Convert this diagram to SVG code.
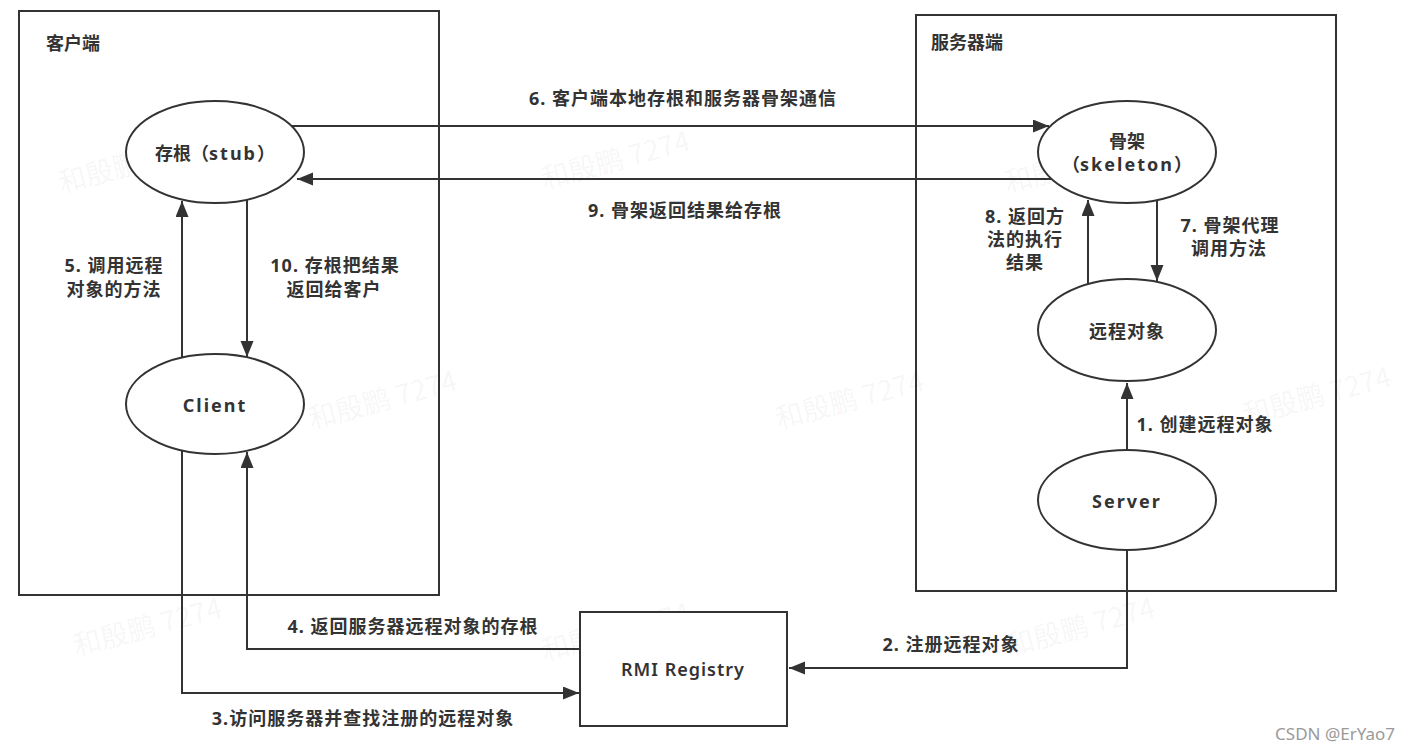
<svg xmlns="http://www.w3.org/2000/svg" width="1410" height="750" viewBox="0 0 1410 750">
  <style>
    .box { fill: #ffffff; stroke: #333333; stroke-width: 2; }
    .node { fill: #ffffff; stroke: #333333; stroke-width: 2; }
    .edge { fill: none; stroke: #333333; stroke-width: 2; }
    .t { font-family: "Noto Sans", "Noto Sans CJK SC", sans-serif; font-size: 18px; font-weight: bold; fill: #333333; text-anchor: middle; dominant-baseline: central; }
    .lbl { letter-spacing: 1px; }
    .tl { font-family: "Noto Sans", "Noto Sans CJK SC", sans-serif; font-size: 18px; font-weight: bold; fill: #333333; dominant-baseline: central; }
    .lat { letter-spacing: 2px; }
    .wm { font-family: "Noto Sans CJK SC", sans-serif; font-size: 28px; fill: #000000; fill-opacity: 0.05; text-anchor: middle; dominant-baseline: central; }
    .credit { font-family: "Noto Sans", "Liberation Sans", sans-serif; font-size: 17px; fill: #9a9a9a; text-anchor: end; }
  </style>
  <defs>
    <marker id="arr" markerUnits="userSpaceOnUse" markerWidth="18" markerHeight="14" refX="16" refY="6.5" orient="auto">
      <path d="M0,0 L16,6.5 L0,13 z" fill="#333333"/>
    </marker>
  </defs>
  <rect width="1410" height="750" fill="#ffffff"/>

  <g id="client-side">
    <rect class="box" x="19" y="11" width="420" height="584"/>
    <text class="tl" x="46" y="43">客户端</text>
  </g>
  <g id="server-side">
    <rect class="box" x="916" y="15" width="420" height="576"/>
    <text class="tl" x="931" y="42">服务器端</text>
  </g>

  <g id="watermarks">
    <text class="wm" transform="translate(132,162) rotate(-15)">和殷鹏 7274</text>
    <text class="wm" transform="translate(615,158) rotate(-15)">和殷鹏 7274</text>
    <text class="wm" transform="translate(1078,162) rotate(-15)">和殷鹏 7274</text>
    <text class="wm" transform="translate(382,398) rotate(-15)">和殷鹏 7274</text>
    <text class="wm" transform="translate(849,398) rotate(-15)">和殷鹏 7274</text>
    <text class="wm" transform="translate(1316,394) rotate(-15)">和殷鹏 7274</text>
    <text class="wm" transform="translate(147,625) rotate(-15)">和殷鹏 7274</text>
    <text class="wm" transform="translate(615,630) rotate(-15)">和殷鹏 7274</text>
    <text class="wm" transform="translate(1080,625) rotate(-15)">和殷鹏 7274</text>
  </g>

  <g id="connectors">
    <path class="edge" marker-end="url(#arr)" d="M292,126 H1049"/>
    <path class="edge" marker-end="url(#arr)" d="M1051,179 H297"/>
    <path class="edge" marker-end="url(#arr)" d="M182,357 V201"/>
    <path class="edge" marker-end="url(#arr)" d="M247,200 V357"/>
    <path class="edge" marker-end="url(#arr)" d="M182,451 V693 H579"/>
    <path class="edge" marker-end="url(#arr)" d="M580,649 H247 V452"/>
    <path class="edge" marker-end="url(#arr)" d="M1088,284 V200"/>
    <path class="edge" marker-end="url(#arr)" d="M1157,200 V281"/>
    <path class="edge" marker-end="url(#arr)" d="M1127,450 V383"/>
    <path class="edge" marker-end="url(#arr)" d="M1127,550 V668 H789"/>

    <text class="t lbl" x="683" y="98">6. 客户端本地存根和服务器骨架通信</text>
    <text class="t lbl" x="685" y="210">9. 骨架返回结果给存根</text>
    <text class="t lbl" x="114" y="265">5. 调用远程</text>
    <text class="t lbl" x="114" y="289">对象的方法</text>
    <text class="t lbl" x="335" y="265">10. 存根把结果</text>
    <text class="t lbl" x="334" y="289">返回给客户</text>
    <text class="t lbl" x="1025" y="216">8. 返回方</text>
    <text class="t lbl" x="1025" y="239">法的执行</text>
    <text class="t lbl" x="1025" y="262">结果</text>
    <text class="t lbl" x="1230" y="225">7. 骨架代理</text>
    <text class="t lbl" x="1229" y="248">调用方法</text>
    <text class="t lbl" x="1205" y="424">1. 创建远程对象</text>
    <text class="t lbl" x="951" y="644">2. 注册远程对象</text>
    <text class="t lbl" x="413" y="626">4. 返回服务器远程对象的存根</text>
    <text class="t lbl" x="363" y="718">3.访问服务器并查找注册的远程对象</text>
  </g>

  <g id="stub">
    <ellipse class="node" cx="215" cy="152" rx="89" ry="51"/>
    <text class="t" x="215" y="153">存根（<tspan class="lat">stub</tspan>）</text>
  </g>
  <g id="skeleton">
    <ellipse class="node" cx="1127" cy="152" rx="89" ry="51"/>
    <text class="t" x="1127" y="141">骨架</text>
    <text class="t" x="1127" y="164">（<tspan class="lat">skeleton</tspan>）</text>
  </g>
  <g id="client">
    <ellipse class="node" cx="215" cy="404" rx="89" ry="50"/>
    <text class="t lat" x="215" y="405">Client</text>
  </g>
  <g id="remote-object">
    <ellipse class="node" cx="1127" cy="330" rx="89" ry="51"/>
    <text class="t lbl" x="1127" y="331">远程对象</text>
  </g>
  <g id="server">
    <ellipse class="node" cx="1127" cy="500" rx="89" ry="50"/>
    <text class="t lat" x="1127" y="501">Server</text>
  </g>
  <g id="rmi-registry">
    <rect class="box" x="580" y="612" width="207" height="114"/>
    <text class="t" x="683" y="669" style="font-weight:600;letter-spacing:1px">RMI Registry</text>
  </g>

  <text class="credit" x="1395" y="740">CSDN @ErYao7</text>
</svg>
